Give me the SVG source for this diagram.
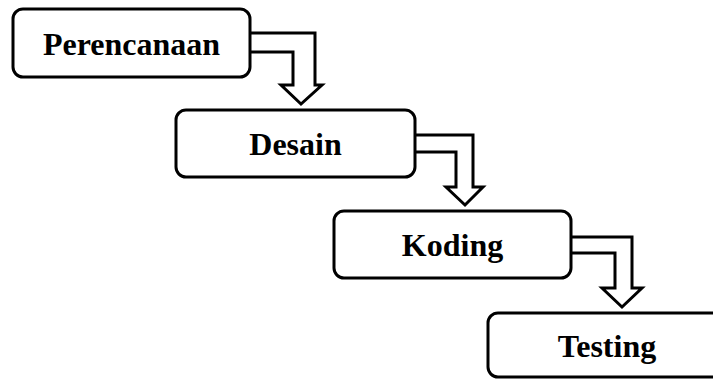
<svg xmlns="http://www.w3.org/2000/svg" width="713" height="379" viewBox="0 0 713 379">
<style>
.box{fill:#fff;stroke:#000;stroke-width:3}
.arr{fill:#fff;stroke:#000;stroke-width:3;stroke-linejoin:miter}
.lbl{font-family:"Liberation Serif","Times New Roman",serif;font-weight:bold;font-size:32px;fill:#000;text-anchor:middle}
</style>
<rect width="713" height="379" fill="#fff"/>
<g id="connectors">
<path class="arr" d="M250,33 H315 V85 H322 L301,104 L281,85 H293 V52 H250"/>
<path class="arr" d="M415,135 H473 V187 H483 L465,205 L446,187 H456 V152 H415"/>
<path class="arr" d="M571,237 H632 V288 H642 L622,307 L602,288 H615 V253 H571"/>
</g>
<g id="perencanaan">
<rect class="box" x="13" y="9" width="237" height="68" rx="10"/>
<text class="lbl" x="131.5" y="55">Perencanaan</text>
</g>
<g id="desain">
<rect class="box" x="176" y="110" width="239" height="67" rx="10"/>
<text class="lbl" x="295.5" y="155">Desain</text>
</g>
<g id="koding">
<rect class="box" x="334" y="211" width="237" height="67" rx="10"/>
<text class="lbl" x="452.5" y="256">Koding</text>
</g>
<g id="testing">
<rect class="box" x="488" y="313" width="240" height="64" rx="10"/>
<text class="lbl" x="607" y="357">Testing</text>
</g>
</svg>
